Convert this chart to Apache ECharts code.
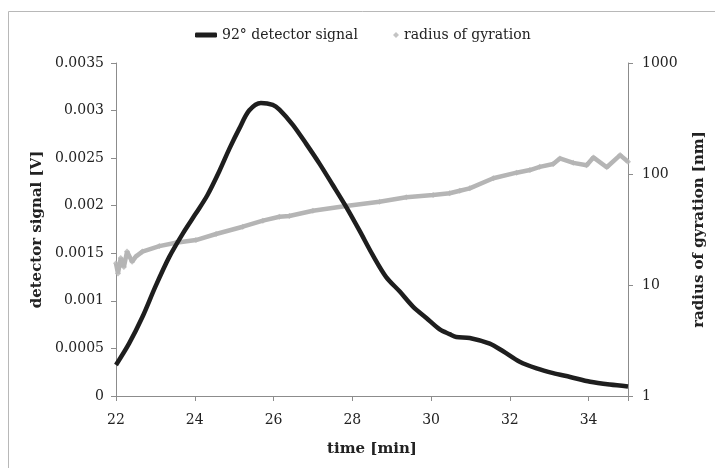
<!DOCTYPE html>
<html>
<head>
<meta charset="utf-8">
<script src="https://cdn.jsdelivr.net/npm/echarts@6/dist/echarts.min.js"></script>
<style>
html,body{margin:0;padding:0;background:#fff;}
#chart{width:715px;height:468px;}
</style>
</head>
<body>
<div id="chart"></div>
<script>
const detectorName = '92° detector signal';
const radiusName = 'radius of gyration';

const detectorTime = [22.0, 22.33, 22.67, 23.0, 23.35, 23.7, 24.03, 24.32, 24.62, 24.88, 25.13, 25.38, 25.68, 25.98, 26.15, 26.49, 26.83, 27.17, 27.5, 27.84, 28.18, 28.52, 28.86, 29.2, 29.54, 29.88, 30.22, 30.47, 30.64, 30.98, 31.49, 31.83, 32.25, 32.68, 33.1, 33.53, 34.04, 34.54, 35.0];
const detectorSignal = [0.000326, 0.00055, 0.00083, 0.00115, 0.00146, 0.00171, 0.00192, 0.00211, 0.00236, 0.0026, 0.00281, 0.0030, 0.00308, 0.00306, 0.00301, 0.00285, 0.00265, 0.00244, 0.00222, 0.00199, 0.00174, 0.00148, 0.00125, 0.0011, 0.00094, 0.00082, 0.0007, 0.00065, 0.00062, 0.00061, 0.00055, 0.00047, 0.00036, 0.00029, 0.00024, 0.0002, 0.00015, 0.00012, 0.0001];

const radiusTime = [22.0, 22.05, 22.12, 22.2, 22.28, 22.41, 22.5, 22.67, 23.1, 23.52, 24.03, 24.54, 25.22, 25.73, 26.15, 26.4, 27.0, 27.84, 28.69, 29.37, 30.05, 30.47, 30.73, 30.98, 31.58, 32.17, 32.51, 32.76, 33.1, 33.27, 33.61, 33.95, 34.12, 34.46, 34.8, 35.0];
const radiusGyration = [15.7, 12.7, 17.5, 14.5, 20, 16.2, 18, 20, 22.4, 24, 25.4, 28.8, 33.5, 38, 41.2, 41.8, 46.7, 51.5, 56.3, 61.7, 64.6, 67, 70.7, 74.3, 91.5, 102.8, 108.6, 116, 123, 138, 126, 120, 141, 115, 148, 129];

const xTickLabels = ['22', '24', '26', '28', '30', '32', '34'];
const leftTickLabels = ['0', '0.0005', '0.001', '0.0015', '0.002', '0.0025', '0.003', '0.0035'];
const rightTickLabels = ['1', '10', '100', '1000'];

const FONT = 'DejaVu Serif';
const axisGrey = '#8c8c8c';
const radiusPoints = radiusTime.map((t, i) => [t, radiusGyration[i]]);

const chart = echarts.init(document.getElementById('chart'), null, {renderer: 'canvas'});
chart.setOption({
  animation: false,
  backgroundColor: '#ffffff',
  textStyle: {fontFamily: FONT},
  graphic: [{
    type: 'rect',
    shape: {x: 8.5, y: 11.5, width: 720, height: 470},
    style: {fill: 'none', stroke: '#b8b8b8', lineWidth: 1},
    silent: true
  }],
  legend: [{
    left: 190,
    top: 23,
    itemWidth: 22,
    itemHeight: 5,
    textStyle: {fontFamily: FONT, fontSize: 14, color: '#222'},
    data: [{name: detectorName, icon: 'roundRect', itemStyle: {color: '#1e1e1e'}}]
  }, {
    left: 388,
    top: 23,
    itemWidth: 6,
    itemHeight: 6,
    textStyle: {fontFamily: FONT, fontSize: 14, color: '#222'},
    data: [{name: radiusName, icon: 'diamond', itemStyle: {color: '#b5b5b5'}}]
  }],
  grid: {left: 116, right: 86, top: 63, bottom: 72},
  xAxis: {
    type: 'value',
    min: 22, max: 35, interval: 2,
    name: 'time [min]',
    nameLocation: 'middle',
    nameGap: 46,
    nameTextStyle: {fontFamily: FONT, fontSize: 15, fontWeight: 'bold', color: '#222'},
    axisLine: {show: true, lineStyle: {color: axisGrey, width: 1}},
    axisTick: {show: true, length: 5, inside: false, lineStyle: {color: axisGrey}},
    splitLine: {show: false},
    axisLabel: {
      margin: 17, fontFamily: FONT, fontSize: 14, color: '#222',
      formatter: function (v) { const i = Math.round((v - 22) / 2); return xTickLabels[i] !== undefined ? xTickLabels[i] : ''; }
    }
  },
  yAxis: [{
    type: 'value',
    position: 'left',
    min: 0, max: 0.0035, interval: 0.0005,
    name: 'detector signal [V]',
    nameLocation: 'middle',
    nameRotate: 90,
    nameGap: 70,
    nameTextStyle: {fontFamily: FONT, fontSize: 15, fontWeight: 'bold', color: '#222'},
    axisLine: {show: true, lineStyle: {color: axisGrey, width: 1}},
    axisTick: {show: true, length: 5, lineStyle: {color: axisGrey}},
    splitLine: {show: false},
    axisLabel: {
      margin: 12, fontFamily: FONT, fontSize: 14, color: '#222',
      formatter: function (v) { const i = Math.round(v / 0.0005); return leftTickLabels[i] !== undefined ? leftTickLabels[i] : ''; }
    }
  }, {
    type: 'log',
    logBase: 10,
    position: 'right',
    min: 1, max: 1000,
    name: 'radius of gyration [nm]',
    nameLocation: 'middle',
    nameRotate: 90,
    nameGap: 64,
    nameTextStyle: {fontFamily: FONT, fontSize: 15, fontWeight: 'bold', color: '#222'},
    axisLine: {show: true, lineStyle: {color: axisGrey, width: 1}},
    axisTick: {show: true, length: 5, lineStyle: {color: axisGrey}},
    splitLine: {show: false},
    minorTick: {show: false},
    axisLabel: {
      margin: 14, fontFamily: FONT, fontSize: 14, color: '#222',
      formatter: function (v) { const i = Math.round(Math.log10(v)); return rightTickLabels[i] !== undefined ? rightTickLabels[i] : ''; }
    }
  }],
  series: [{
    name: 'rg-band',
    type: 'line',
    yAxisIndex: 1,
    data: radiusPoints,
    showSymbol: false,
    itemStyle: {color: '#b5b5b5'},
    lineStyle: {color: '#b5b5b5', width: 4.5},
    z: 2
  }, {
    name: radiusName,
    type: 'scatter',
    yAxisIndex: 1,
    data: radiusPoints,
    symbol: 'diamond',
    symbolSize: 6,
    itemStyle: {color: '#b5b5b5'},
    z: 2
  }, {
    name: detectorName,
    type: 'line',
    yAxisIndex: 0,
    data: detectorTime.map((t, i) => [t, detectorSignal[i]]),
    showSymbol: false,
    smooth: 0.3,
    itemStyle: {color: '#1e1e1e'},
    lineStyle: {color: '#1e1e1e', width: 4.5},
    z: 3
  }]
});
</script>
</body>
</html>
